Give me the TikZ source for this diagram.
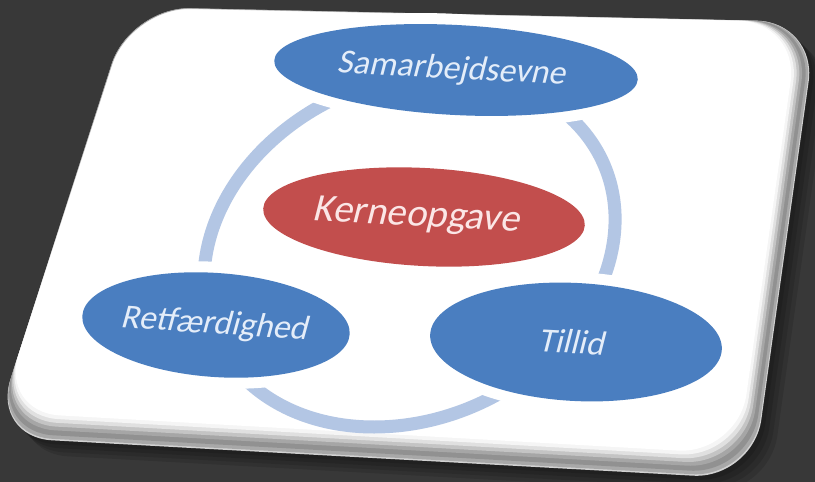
\documentclass[tikz,border=0pt]{standalone}
\usepackage{fontspec}
\newfontfamily\cfont[FakeSlant=0.2]{Carlito}
\usetikzlibrary{shapes.geometric,calc}
\definecolor{bg}{HTML}{383838}
\definecolor{nodeblue}{HTML}{4A7EC0}
\definecolor{nodered}{HTML}{C24E4D}
\definecolor{ringblue}{HTML}{B3C6E4}
\definecolor{bluetext}{HTML}{E4EDF9}
\definecolor{redtext}{HTML}{FBE6E6}
\begin{document}
\begin{tikzpicture}[x=1pt,y=-1pt,
  card/.style={rounded corners=60pt},
  bluenode/.style={ellipse, fill=nodeblue, inner sep=0pt, text=bluetext,
    preaction={draw=white, line width=22pt},
    font=\cfont\fontsize{34}{40}\selectfont},
  rednode/.style={ellipse, fill=nodered, inner sep=0pt, text=redtext,
    font=\cfont\fontsize{39}{46}\selectfont},
  ring/.style={draw=ringblue, line width=13pt}]
\fill[bg] (0,0) rectangle (815,482);
\useasboundingbox (0,0) rectangle (815,482);
% card corners: outer (with rim) and inner (top surface)
\coordinate (O1) at (130,7);
\coordinate (O2) at (817,22);
\coordinate (O3) at (753,479);
\coordinate (O4) at (-8,437);
\coordinate (I1) at (131,8);
\coordinate (I2) at (799,22);
\coordinate (I3) at (738,454);
\coordinate (I4) at (0,412);
% shadow
\foreach \d in {16,12,8,4}
  \fill[black, opacity=0.12, card] ($(O1)+(\d,\d)$) -- ($(O2)+(\d,\d)$) -- ($(O3)+(\d,\d)$) -- ($(O4)+(\d,\d)$) -- cycle;
% rim and top surface
\foreach \t/\g in {0/82, 0.06/66, 0.2/57, 0.4/65, 0.55/77, 0.7/88, 0.85/96, 1/100}
  \fill[white!\g!black, card] ($(O1)!\t!(I1)$) -- ($(O2)!\t!(I2)$) -- ($(O3)!\t!(I3)$) -- ($(O4)!\t!(I4)$) -- cycle;
% ring (a circle seen in perspective)
\begin{scope}[shift={(409.5,250)}, xslant=0.2]
  \draw[ring] (0,0) ellipse [x radius=202.5pt, y radius=177pt];
\end{scope}
% nodes
\node[bluenode, rotate=-3, minimum width=364pt, minimum height=90pt] (sam) at (456,70) {\hspace*{-10pt}Samarbejdsevne};
\node[rednode, rotate=-3, minimum width=322pt, minimum height=98pt] (kerne) at (424,217) {\hspace*{-16pt}Kerneopgave};
\node[bluenode, rotate=-4, minimum width=268pt, minimum height=104pt] (ret) at (216,325) {\hspace*{-4pt}Retfærdighed};
\node[bluenode, rotate=-3, minimum width=292pt, minimum height=118pt] (til) at (576,342) {\hspace*{-10pt}Tillid};
\end{tikzpicture}
\end{document}
